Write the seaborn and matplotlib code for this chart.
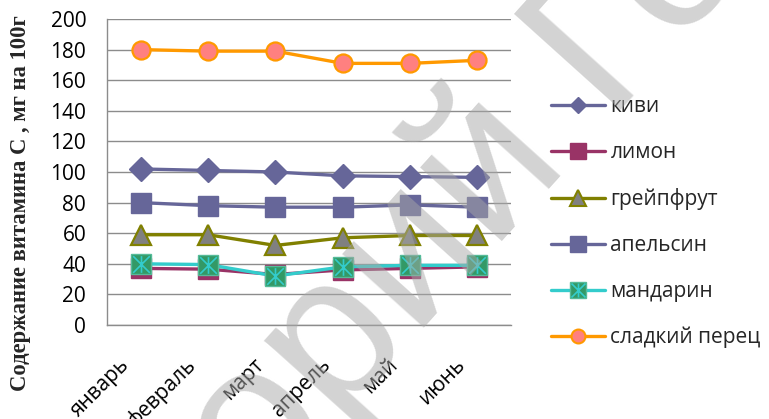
import matplotlib
matplotlib.use("Agg")
import matplotlib.pyplot as plt
import matplotlib.transforms as mtransforms
from matplotlib.lines import Line2D
from matplotlib.path import Path
from matplotlib.legend_handler import HandlerTuple
import seaborn as sns

# Monthly vitamin C content, mg per 100 g
months = ["январь", "февраль", "март", "апрель", "май", "июнь"]
kiwi = [102, 101, 100, 97.5, 97, 96.5]
lemon = [37, 36.5, 33, 36, 37, 38]
grapefruit = [59, 59, 52, 57, 58.5, 58.5]
orange = [80, 78, 77, 77, 78.5, 77]
mandarin = [40, 39.5, 32, 38, 39, 39]
pepper = [180, 179, 179, 171, 171, 173]

series_names = ["киви", "лимон", "грейпфрут", "апельсин", "мандарин", "сладкий перец"]
y_ticks = [0, 20, 40, 60, 80, 100, 120, 140, 160, 180, 200]
y_title = "Содержание витамина С , мг на 100г"

sns.set_theme(style="white")
plt.rcParams["font.family"] = ["Open Sans", "DejaVu Sans"]

W, H = 769, 419
fig = plt.figure(figsize=(W / 100, H / 100), dpi=100)
ax = fig.add_axes([107 / W, 1 - 325 / H, (511 - 107) / W, (325 - 19) / H])

# asterisk-in-square marker shape (X plus vertical stroke)
star = Path([(0, -1), (0, 1), (-1, -1), (1, 1), (-1, 1), (1, -1)],
            [Path.MOVETO, Path.LINETO, Path.MOVETO, Path.LINETO, Path.MOVETO, Path.LINETO])

lw = 2.4
styles = [
    dict(color="#666699", marker="D", markersize=12, markerfacecolor="#666699", markeredgecolor="#666699", markeredgewidth=1),
    dict(color="#993366", marker="s", markersize=14, markerfacecolor="#993366", markeredgecolor="#993366", markeredgewidth=1),
    dict(color="#808000", marker="^", markersize=14, markerfacecolor="#808080", markeredgecolor="#808000", markeredgewidth=1.6),
    dict(color="#666699", marker="s", markersize=14.5, markerfacecolor="#666699", markeredgecolor="#666699", markeredgewidth=1),
    dict(color="#33CCCC", marker="s", markersize=14, markerfacecolor="#339966", markeredgecolor="#55bb99", markeredgewidth=1),
    dict(color="#FF9900", marker="o", markersize=13, markerfacecolor="#FF8080", markeredgecolor="#FF9900", markeredgewidth=1.6),
]
values = [kiwi, lemon, grapefruit, orange, mandarin, pepper]

for name, vals, st in zip(series_names, values, styles):
    sns.lineplot(x=months, y=vals, ax=ax, sort=False, linewidth=lw, legend=False, **st)
    if name == "мандарин":
        sns.lineplot(x=months, y=vals, ax=ax, sort=False, linewidth=0, legend=False,
                     marker=star, markersize=12, color="#33CCCC",
                     markeredgecolor="#33CCCC", markeredgewidth=1.2)

ax.set_xlim(-0.5, 5.5)
ax.set_ylim(0, 200)
ax.set_yticks(y_ticks)
ax.yaxis.grid(True, color="#8c8c8c", linewidth=1)
ax.xaxis.grid(False)
for side in ["top", "right"]:
    ax.spines[side].set_visible(False)
for side in ["left", "bottom"]:
    ax.spines[side].set_color("#8c8c8c")
    ax.spines[side].set_linewidth(1)
ax.set_xlabel("")
ax.set_ylabel("")
ax.tick_params(axis="y", length=0, pad=15, labelsize=15, labelcolor="black")
ax.tick_params(axis="x", length=0, pad=0, labelsize=15, labelcolor="black")

ax.set_xticks(range(len(months)))
ax.set_xticklabels(months)
shift = mtransforms.ScaledTranslation(-0.15, -0.37, fig.dpi_scale_trans)
for lab in ax.get_xticklabels():
    lab.set_rotation(45)
    lab.set_rotation_mode("anchor")
    lab.set_ha("right")
    lab.set_va("center")
    lab.set_transform(lab.get_transform() + shift)

fig.text(21 / W, 1 - 203 / H, y_title, rotation=90, ha="center", va="center",
         fontsize=16.3, fontweight="bold", family=["Liberation Serif", "DejaVu Serif"])

# legend with smaller markers
leg_styles = [
    dict(color="#666699", marker="D", markersize=8.5, markerfacecolor="#666699", markeredgecolor="#666699"),
    dict(color="#993366", marker="s", markersize=12, markerfacecolor="#993366", markeredgecolor="#993366"),
    dict(color="#808000", marker="^", markersize=11, markerfacecolor="#808080", markeredgecolor="#808000", markeredgewidth=1.5),
    dict(color="#666699", marker="s", markersize=12, markerfacecolor="#666699", markeredgecolor="#666699"),
    dict(color="#33CCCC", marker="s", markersize=12, markerfacecolor="#339966", markeredgecolor="#55bb99"),
    dict(color="#FF9900", marker="o", markersize=10, markerfacecolor="#FF8080", markeredgecolor="#FF9900", markeredgewidth=1.5),
]
handles = []
for name, st in zip(series_names, leg_styles):
    h = Line2D([], [], linewidth=lw, **st)
    if name == "мандарин":
        h = (h, Line2D([], [], linewidth=0, marker=star, markersize=10, color="#33CCCC",
                       markeredgecolor="#33CCCC", markeredgewidth=1.2))
    handles.append(h)
fig.legend(handles, series_names, loc="upper left", bbox_to_anchor=(551 / W, 1 - 96 / H),
           frameon=False, fontsize=15, borderpad=0, borderaxespad=0,
           handlelength=2.6, handletextpad=0.25, labelspacing=1.2,
           handler_map={tuple: HandlerTuple(ndivide=1)})

# watermark overlay
fig.text(105 / W, 1 - 682 / H, "Теорий Го", rotation=48, rotation_mode="anchor",
         ha="left", va="baseline", fontsize=150, color="#a8a8a8", alpha=0.5,
         family=["Liberation Sans", "DejaVu Sans"], zorder=10)

fig.savefig("out.png", dpi=100)
